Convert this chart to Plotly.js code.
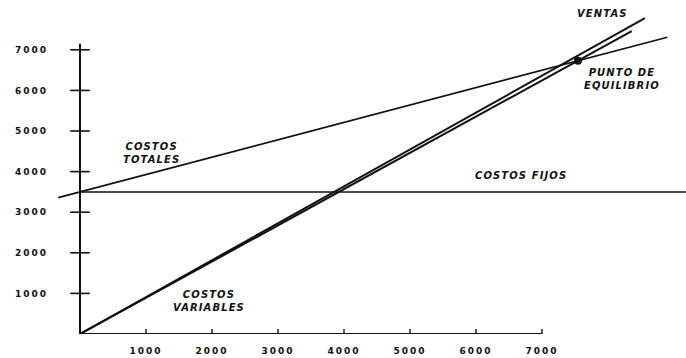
<!DOCTYPE html>
<html>
<head>
<meta charset="utf-8">
<script src="https://cdn.plot.ly/plotly-3.0.1.min.js"></script>
<style>
  html, body { margin: 0; padding: 0; background: #fff; }
  #chart { width: 686px; height: 358px; }
  .xtick text, .ytick text { letter-spacing: 2px; }
  .annotation-text { letter-spacing: 1.1px; }
</style>
</head>
<body>
<div id="chart"></div>
<script>
// ---- data ----
const tickValues = [1000, 2000, 3000, 4000, 5000, 6000, 7000];
const tickLabels = ['1000', '2000', '3000', '4000', '5000', '6000', '7000'];

const costosFijosX = [0, 9180];
const costosFijosY = [3500, 3500];

const costosTotalesX = [-330, 8900];
const costosTotalesY = [3360, 7310];

const ventasX = [0, 8560];
const ventasY = [0, 7780];

const costosVariablesX = [0, 8360];
const costosVariablesY = [0, 7460];

const equilibrioX = [7545];
const equilibrioY = [6730];

const ejeXx = [0, 7000], ejeXy = [0, 0];
const ejeYx = [0, 0], ejeYy = [0, 7150];

const zeros = tickValues.map(() => 0);

const black = '#111';

const traces = [
  { x: ejeXx, y: ejeXy, mode: 'lines', line: { color: black, width: 2 }, hoverinfo: 'skip' },
  { x: ejeYx, y: ejeYy, mode: 'lines', line: { color: black, width: 2 }, hoverinfo: 'skip' },
  { x: zeros, y: tickValues, mode: 'markers', hoverinfo: 'skip',
    marker: { symbol: 'line-ew-open', size: 14, color: black, line: { width: 1.6, color: black } } },
  { x: tickValues, y: zeros, mode: 'markers', hoverinfo: 'skip',
    marker: { symbol: 'line-ns-open', size: 7, color: black, line: { width: 1.4, color: black } } },
  { name: 'Costos fijos', x: costosFijosX, y: costosFijosY, mode: 'lines', line: { color: black, width: 1.5 } },
  { name: 'Costos totales', x: costosTotalesX, y: costosTotalesY, mode: 'lines', line: { color: black, width: 1.7 } },
  { name: 'Ventas', x: ventasX, y: ventasY, mode: 'lines', line: { color: black, width: 2 } },
  { name: 'Costos variables', x: costosVariablesX, y: costosVariablesY, mode: 'lines', line: { color: black, width: 2 } },
  { name: 'Punto de equilibrio', x: equilibrioX, y: equilibrioY, mode: 'markers', marker: { color: black, size: 8 } }
];

const labelFont = { family: 'DejaVu Sans', size: 10, color: black, weight: 'bold', style: 'italic' };
function lbl(text, x, y) {
  return { text, x, y, xref: 'x', yref: 'y', showarrow: false, xanchor: 'center', yanchor: 'middle', font: labelFont };
}

const layout = {
  width: 686, height: 358,
  margin: { l: 0, r: 0, t: 0, b: 24 },
  paper_bgcolor: '#fff', plot_bgcolor: '#fff',
  showlegend: false,
  xaxis: {
    range: [-1212, 9182], showgrid: false, zeroline: false, showline: false,
    tickvals: tickValues, ticktext: tickLabels, ticks: '', automargin: false,
    ticklabelstandoff: 10,
    tickfont: { family: 'DejaVu Sans', size: 9, color: black, weight: 'bold' }
  },
  yaxis: {
    range: [0, 8227], showgrid: false, zeroline: false, showline: false,
    anchor: 'free', position: 80 / 686,
    tickvals: tickValues, ticktext: tickLabels, ticks: '', automargin: false,
    ticklabelstandoff: 32,
    tickfont: { family: 'DejaVu Sans', size: 9, color: black, weight: 'bold' }
  },
  annotations: [
    lbl('VENTAS', 7924, 7906),
    lbl('PUNTO DE<br>EQUILIBRIO', 8210, 6290),
    lbl('COSTOS<br>TOTALES', 1090, 4458),
    lbl('COSTOS FIJOS', 6682, 3892),
    lbl('COSTOS<br>VARIABLES', 1955, 825)
  ]
};

Plotly.newPlot('chart', traces, layout, { staticPlot: true, displayModeBar: false });
</script>
</body>
</html>
